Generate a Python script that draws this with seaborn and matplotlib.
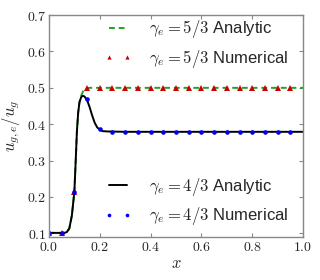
import numpy as np
import pandas as pd
import seaborn as sns
import matplotlib
matplotlib.use("Agg")
import matplotlib.pyplot as plt
from matplotlib.ticker import FuncFormatter, MultipleLocator

# analytic curves
x_an = [0.00, 0.06, 0.07, 0.08, 0.09, 0.10, 0.105, 0.11, 0.115, 0.12, 0.127,
        0.134, 0.14, 0.15, 0.16, 0.17, 0.18, 0.19, 0.20, 0.21, 0.23, 0.30, 1.00]
y_an_43 = [0.101, 0.101, 0.103, 0.113, 0.148, 0.214, 0.295, 0.380, 0.432, 0.460, 0.475,
           0.478, 0.476, 0.466, 0.447, 0.424, 0.404, 0.391, 0.385, 0.381, 0.380, 0.379, 0.379]
y_an_53 = [0.101, 0.101, 0.103, 0.113, 0.148, 0.214, 0.295, 0.380, 0.432, 0.460, 0.479,
           0.490, 0.496, 0.499, 0.500, 0.500, 0.500, 0.500, 0.500, 0.500, 0.500, 0.500, 0.500]

# numerical samples
x_num = [0.00, 0.05, 0.10, 0.15, 0.20, 0.25, 0.30, 0.35, 0.40, 0.45,
         0.50, 0.55, 0.60, 0.65, 0.70, 0.75, 0.80, 0.85, 0.90, 0.95]
y_num_53 = [0.100, 0.100, 0.214, 0.500, 0.500, 0.500, 0.500, 0.500, 0.500, 0.500,
            0.500, 0.500, 0.500, 0.500, 0.500, 0.500, 0.500, 0.500, 0.500, 0.500]
y_num_43 = [0.100, 0.100, 0.214, 0.469, 0.387, 0.379, 0.379, 0.379, 0.379, 0.379,
            0.379, 0.379, 0.379, 0.379, 0.379, 0.379, 0.379, 0.379, 0.379, 0.379]

sns.set_style("ticks")
plt.rcParams['font.family'] = ['Liberation Sans', 'DejaVu Sans']
plt.rcParams['mathtext.fontset'] = 'cm'

fig = plt.figure(figsize=(3.2, 2.8), dpi=100)
ax = fig.add_axes([0.153, 0.154, 0.794, 0.792])

sns.lineplot(x=x_an, y=y_an_53, ax=ax, color='#22a022', lw=1.4,
             linestyle=(0, (3, 2)), label=r'$\gamma_e = 5/3$ Analytic', sort=False)
sns.lineplot(x=x_num, y=y_num_53, ax=ax, color='#cc0000', marker='^', markersize=3.8,
             markeredgewidth=0, linestyle='', label=r'$\gamma_e = 5/3$ Numerical', sort=False)
sns.lineplot(x=x_an, y=y_an_43, ax=ax, color='black', lw=1.4,
             label=r'$\gamma_e = 4/3$ Analytic', sort=False)
sns.lineplot(x=x_num, y=y_num_43, ax=ax, color='#0000ee', marker='o', markersize=3.3,
             markeredgewidth=0, linestyle='', label=r'$\gamma_e = 4/3$ Numerical', sort=False)

ax.set_xlim(0, 1.0)
ax.set_ylim(0.09, 0.7)
ax.xaxis.set_major_locator(MultipleLocator(0.2))
ax.yaxis.set_major_locator(MultipleLocator(0.1))
fmt = FuncFormatter(lambda v, p: f'${v:.1f}$')
ax.xaxis.set_major_formatter(fmt)
ax.yaxis.set_major_formatter(fmt)
ax.tick_params(direction='in', top=True, right=True, length=3, color='#888888',
               labelsize=10, pad=2)
for s in ax.spines.values():
    s.set_color('#888888')
    s.set_linewidth(1.0)

ax.set_xlabel('$x$', fontsize=12, labelpad=2)
ax.set_ylabel('$u_{g,e}/u_g$', fontsize=12, labelpad=3)

h, l = ax.get_legend_handles_labels()
ax.get_legend().remove()
leg_kw = dict(loc='upper left', frameon=False, fontsize=12, numpoints=2,
              handlelength=1.7, handletextpad=1.0, labelspacing=0.45,
              borderpad=0, borderaxespad=0, markerscale=0.8)
leg1 = ax.legend(h[:2], l[:2], bbox_to_anchor=(0.215, 0.985), **leg_kw)
ax.add_artist(leg1)
ax.legend(h[2:], l[2:], bbox_to_anchor=(0.215, 0.275), **leg_kw)

fig.savefig('out.png', dpi=100)
